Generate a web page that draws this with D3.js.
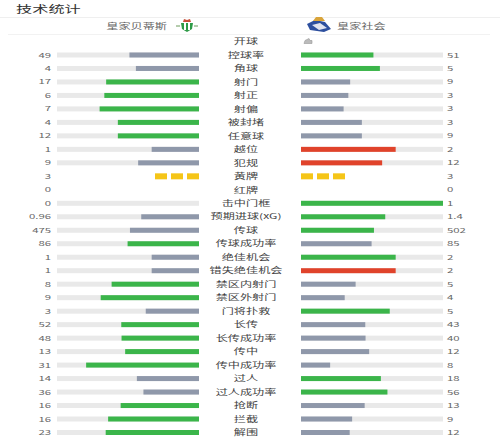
<!DOCTYPE html>
<html>
<head>
<meta charset="utf-8">
<script src="https://cdn.jsdelivr.net/npm/d3@7"></script>
<style>
  body { margin: 0; background: #fff; }
  text { font-family: "Noto Sans CJK SC", "Noto Sans", sans-serif; }
</style>
</head>
<body>
<div id="chart"></div>
<script>
// match stats data
const homeTeam = "皇家贝蒂斯";
const awayTeam = "皇家社会";
const labels = ["开球", "控球率", "角球", "射门", "射正", "射偏", "被封堵", "任意球", "越位", "犯规",
    "黄牌", "红牌", "击中门框", "预期进球(xG)", "传球", "传球成功率", "绝佳机会", "错失绝佳机会",
    "禁区内射门", "禁区外射门", "门将扑救", "长传", "长传成功率", "传中", "传中成功率", "过人",
    "过人成功率", "抢断", "拦截", "解围"];
const homeValues = [null, 49, 4, 17, 6, 7, 4, 12, 1, 9, 3, 0, 0, 0.96, 475, 86, 1, 1, 8, 9, 3, 52, 48, 13, 31, 14, 36, 16, 16, 23];
const awayValues = [null, 51, 5, 9, 3, 3, 3, 9, 2, 12, 3, 0, 1, 1.4, 502, 85, 2, 2, 5, 4, 5, 43, 40, 12, 8, 18, 56, 13, 9, 12];
const badStats = ["越位", "犯规", "错失绝佳机会"];
const cardRows = { "黄牌": "#f5c518", "红牌": "#e0432b" };

const width = 500, height = 440;
const SX = 1.62; // the screenshot is stretched sideways

const svg = d3.select("#chart").append("svg")
    .attr("width", width)
    .attr("height", height);

const y = d3.scalePoint().domain(labels).range([41.5, 432.5]);
const len = d3.scaleLinear().domain([0, 1]).range([0, 142]);
const leftEnd = 199, rightStart = 301;
const barH = 5;

const green = "#3bb54a", gray = "#8f98aa", red = "#e0432b", track = "#e9e9e9";

function stretched(g, x, yy, txt, size, color, anchor) {
    return g.append("text")
        .attr("transform", `translate(${x},${yy}) scale(${SX},1)`)
        .attr("text-anchor", anchor || "start")
        .attr("dy", "0.36em")
        .attr("font-size", size)
        .attr("fill", color)
        .text(txt);
}

// header
stretched(svg, 16, 9, "技术统计", 10, "#333");
svg.append("line").attr("x1", 0).attr("x2", width).attr("y1", 17.5).attr("y2", 17.5)
    .attr("stroke", "#efefef");
svg.append("line").attr("x1", 8).attr("x2", 490).attr("y1", 34.5).attr("y2", 34.5)
    .attr("stroke", "#f2f2f2");

stretched(svg, 167, 26, homeTeam, 7.5, "#666", "end");
stretched(svg, 337, 26, awayTeam, 7.5, "#666");

// Betis crest (rough)
const betis = svg.append("g").attr("transform", "translate(187,26)");
betis.append("path").attr("d", "M-6,-3 L6,-3 L5,3 L0,6 L-5,3 Z").attr("fill", "#2e9a47");
betis.append("rect").attr("x", -3).attr("y", -3).attr("width", 2).attr("height", 7).attr("fill", "#fff");
betis.append("rect").attr("x", 1).attr("y", -3).attr("width", 2).attr("height", 7).attr("fill", "#fff");
betis.append("path").attr("d", "M-4,-4 L-3,-7 L0,-6 L3,-7 L4,-4 Z").attr("fill", "#c8503a");
betis.append("line").attr("x1", -11).attr("x2", -7).attr("y1", 0).attr("y2", 0).attr("stroke", "#6a9a5a");
betis.append("line").attr("x1", 7).attr("x2", 11).attr("y1", 0).attr("y2", 0).attr("stroke", "#6a9a5a");

// Real Sociedad crest (rough)
const rso = svg.append("g").attr("transform", "translate(319,26)");
rso.append("path").attr("d", "M-12,-2 L-4,-6 L6,-4 L12,3 L5,6 L-9,4 Z").attr("fill", "#2d4f9e");
rso.append("path").attr("d", "M-7,-1 L1,-3 L8,2 L0,4 Z").attr("fill", "#dfe3f0");
rso.append("path").attr("d", "M-6,-5 L-3,-9 L3,-9 L6,-5 Z").attr("fill", "#d9a43a");

// rows
const rows = svg.append("g");
labels.forEach((lab, i) => {
    const cy = y(lab);
    const h = homeValues[i], a = awayValues[i];
    const g = rows.append("g");
    stretched(g, 246, cy, lab, 7.5, "#444", "middle");

    if (h === null) {
        // kick-off marker on the away side
        const k = g.append("g").attr("transform", `translate(308,${cy})`);
        k.append("path").attr("d", "M-4,2 L-3,-1 L1,-3 L2,-1 L4,-1 L4,2 Z")
            .attr("fill", "#bbb").attr("stroke", "#999").attr("stroke-width", 0.6);
        return;
    }

    stretched(g, 51, cy, String(h), 7, "#666", "end");
    stretched(g, 447, cy, String(a), 7, "#666");

    if (cardRows[lab]) {
        const cw = 12, ch = 6, gap = 4;
        d3.range(h).forEach(k => {
            g.append("rect").attr("x", leftEnd - cw - k * (cw + gap)).attr("y", cy - ch / 2)
                .attr("width", cw).attr("height", ch).attr("fill", cardRows[lab]);
        });
        d3.range(a).forEach(k => {
            g.append("rect").attr("x", rightStart + k * (cw + gap)).attr("y", cy - ch / 2)
                .attr("width", cw).attr("height", ch).attr("fill", cardRows[lab]);
        });
        return;
    }

    const total = h + a;
    const hr = total ? h / total : 0, ar = total ? a / total : 0;
    const winColor = badStats.includes(lab) ? red : green;
    const hColor = h > a ? winColor : gray;
    const aColor = a > h ? winColor : gray;

    g.append("rect").attr("x", leftEnd - len(1)).attr("y", cy - barH / 2)
        .attr("width", len(1)).attr("height", barH).attr("fill", track);
    g.append("rect").attr("x", rightStart).attr("y", cy - barH / 2)
        .attr("width", len(1)).attr("height", barH).attr("fill", track);
    g.append("rect").attr("x", leftEnd - len(hr)).attr("y", cy - barH / 2)
        .attr("width", len(hr)).attr("height", barH).attr("fill", hColor);
    g.append("rect").attr("x", rightStart).attr("y", cy - barH / 2)
        .attr("width", len(ar)).attr("height", barH).attr("fill", aColor);
});
</script>
</body>
</html>
